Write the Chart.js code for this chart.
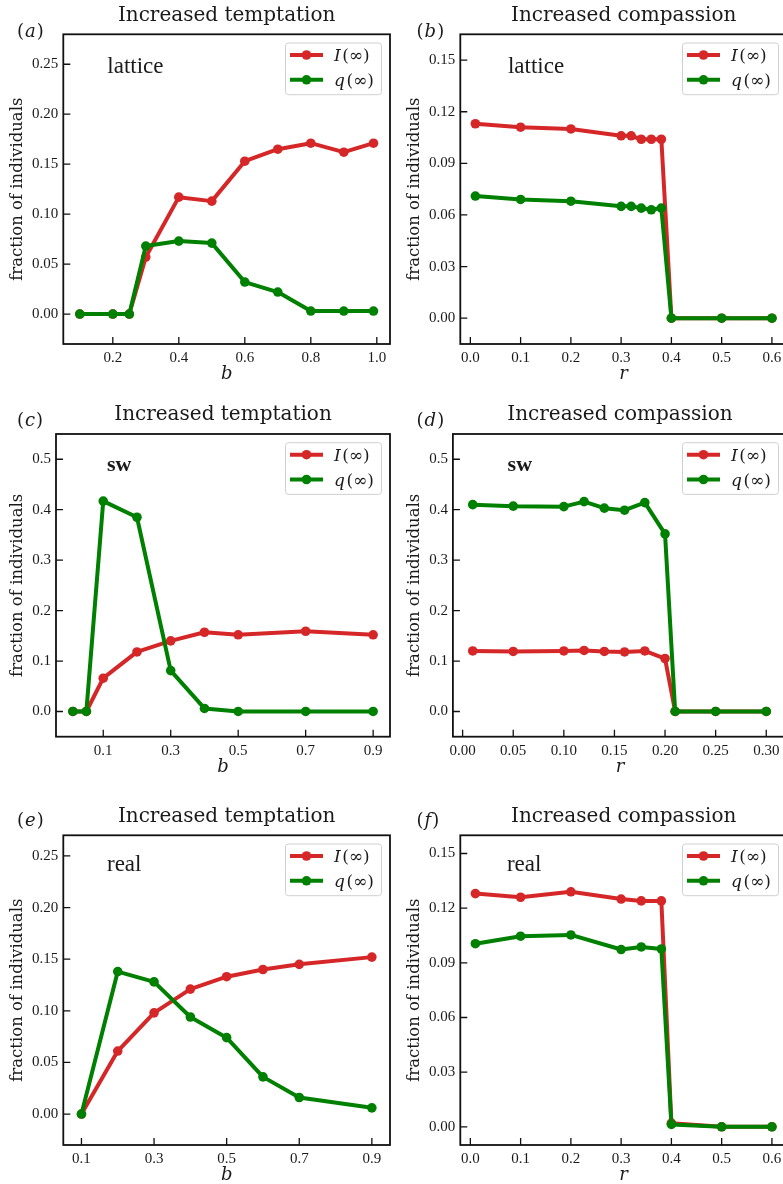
<!DOCTYPE html>
<html>
<head>
<meta charset="utf-8">
<script src="https://cdn.jsdelivr.net/npm/chart.js@4/dist/chart.umd.min.js"></script>
<style>
  html, body { margin:0; padding:0; background:#fff; }
  body { width:783px; height:1184px; overflow:hidden; position:relative; }
  canvas { position:absolute; }
</style>
</head>
<body>
<canvas id="ca" width="395" height="390"></canvas>
<canvas id="cb" width="395" height="390"></canvas>
<canvas id="cc" width="395" height="390"></canvas>
<canvas id="cd" width="395" height="390"></canvas>
<canvas id="ce" width="395" height="404"></canvas>
<canvas id="cf" width="395" height="404"></canvas>
<script>
// ---------- DATA ----------
// (a) lattice, increased temptation
const aX = [0.1, 0.2, 0.25, 0.3, 0.4, 0.5, 0.6, 0.7, 0.8, 0.9, 0.99];
const aI = [0, 0, 0, 0.057, 0.117, 0.113, 0.153, 0.165, 0.171, 0.162, 0.171];
const aQ = [0, 0, 0, 0.068, 0.073, 0.071, 0.032, 0.022, 0.003, 0.003, 0.003];
// (b) lattice, increased compassion
const bX = [0.01, 0.1, 0.2, 0.3, 0.32, 0.34, 0.36, 0.38, 0.4, 0.5, 0.6];
const bI = [0.113, 0.111, 0.110, 0.106, 0.106, 0.104, 0.104, 0.104, 0, 0, 0];
const bQ = [0.071, 0.069, 0.068, 0.065, 0.065, 0.064, 0.063, 0.064, 0, 0, 0];
// (c) sw, increased temptation
const cX = [0.01, 0.05, 0.1, 0.2, 0.3, 0.4, 0.5, 0.7, 0.9];
const cI = [0, 0, 0.066, 0.118, 0.140, 0.157, 0.152, 0.159, 0.152];
const cQ = [0, 0, 0.417, 0.385, 0.081, 0.006, 0, 0, 0];
// (d) sw, increased compassion
const dX = [0.01, 0.05, 0.1, 0.12, 0.14, 0.16, 0.18, 0.2, 0.21, 0.25, 0.3];
const dI = [0.120, 0.119, 0.120, 0.121, 0.119, 0.118, 0.120, 0.105, 0, 0, 0];
const dQ = [0.410, 0.407, 0.406, 0.416, 0.403, 0.399, 0.414, 0.352, 0, 0, 0];
// (e) real, increased temptation
const eX = [0.1, 0.2, 0.3, 0.4, 0.5, 0.6, 0.7, 0.9];
const eI = [0, 0.061, 0.098, 0.121, 0.133, 0.140, 0.145, 0.152];
const eQ = [0, 0.138, 0.128, 0.094, 0.074, 0.036, 0.016, 0.006];
// (f) real, increased compassion
const fX = [0.01, 0.1, 0.2, 0.3, 0.34, 0.38, 0.4, 0.5, 0.6];
const fI = [0.128, 0.126, 0.129, 0.125, 0.124, 0.124, 0.002, 0, 0];
const fQ = [0.1005, 0.1046, 0.1053, 0.0973, 0.0987, 0.0976, 0.0013, 0, 0];

// ---------- TICKS ----------
const aXTicks = [0.2, 0.4, 0.6, 0.8, 1.0];
const aYTicks = [0, 0.05, 0.10, 0.15, 0.20, 0.25];
const bXTicks = [0, 0.1, 0.2, 0.3, 0.4, 0.5, 0.6];
const bYTicks = [0, 0.03, 0.06, 0.09, 0.12, 0.15];
const cXTicks = [0.1, 0.3, 0.5, 0.7, 0.9];
const cYTicks = [0, 0.1, 0.2, 0.3, 0.4, 0.5];
const dXTicks = [0, 0.05, 0.10, 0.15, 0.20, 0.25, 0.30];
const dYTicks = [0, 0.1, 0.2, 0.3, 0.4, 0.5];
const eXTicks = [0.1, 0.3, 0.5, 0.7, 0.9];
const eYTicks = [0, 0.05, 0.10, 0.15, 0.20, 0.25];
const fXTicks = [0, 0.1, 0.2, 0.3, 0.4, 0.5, 0.6];
const fYTicks = [0, 0.03, 0.06, 0.09, 0.12, 0.15];

// ---------- TEXT ----------
const titles = { temptation: 'Increased temptation', compassion: 'Increased compassion' };
const yTitle = 'fraction of individuals';
const seriesNames = ['I', 'q'];

const RED = '#d62728';
const GREEN = '#008000';
const TXT = '#1a1a1a';

const decoPlugin = {
  id: 'deco',
  afterDraw(chart) {
    const o = chart.options.plugins.deco;
    const ctx = chart.ctx, a = chart.chartArea;
    const xs = chart.scales.x, ys = chart.scales.y;
    ctx.save();
    // inward ticks
    ctx.strokeStyle = '#111';
    ctx.lineWidth = 1.3;
    ctx.beginPath();
    xs.ticks.forEach(t => { const px = xs.getPixelForValue(t.value); ctx.moveTo(px, a.bottom); ctx.lineTo(px, a.bottom - 7); });
    ys.ticks.forEach(t => { const py = ys.getPixelForValue(t.value); ctx.moveTo(a.left, py); ctx.lineTo(a.left + 7, py); });
    ctx.stroke();
    // frame
    ctx.lineWidth = 1.8;
    ctx.strokeStyle = '#111';
    ctx.strokeRect(a.left, a.top, a.right - a.left, a.bottom - a.top);
    // title
    ctx.fillStyle = TXT;
    ctx.textBaseline = 'alphabetic';
    ctx.textAlign = 'center';
    ctx.font = '20px "DejaVu Serif"';
    ctx.fillText(o.title, (a.left + a.right) / 2, a.top - 13.8);
    // panel label
    ctx.textAlign = 'left';
    let lx = o.labelX;
    ctx.font = '18px "DejaVu Serif"';
    ctx.fillText('(', lx, o.labelY); lx += ctx.measureText('(').width + 1;
    ctx.font = 'italic 18px "DejaVu Serif"';
    ctx.fillText(o.letter, lx, o.labelY); lx += ctx.measureText(o.letter).width + 1;
    ctx.font = '18px "DejaVu Serif"';
    ctx.fillText(')', lx, o.labelY);
    // y title
    ctx.save();
    ctx.translate(18, (a.top + a.bottom) / 2);
    ctx.rotate(-Math.PI / 2);
    ctx.textAlign = 'center';
    ctx.textBaseline = 'middle';
    ctx.font = '16.5px "DejaVu Serif"';
    ctx.fillText(yTitle, 0, 0);
    ctx.restore();
    // x title
    ctx.textAlign = 'center';
    ctx.textBaseline = 'alphabetic';
    ctx.font = 'italic 18px "DejaVu Serif"';
    ctx.fillText(o.xTitle, (a.left + a.right) / 2, a.bottom + 35);
    // annotation
    ctx.textAlign = 'left';
    ctx.font = o.noteFont;
    ctx.fillText(o.note, o.noteX, o.noteY);
    // legend
    const bw = 96, bh = 51.7;
    const bx = a.right - 8.5 - bw, by = a.top + 8.7;
    ctx.beginPath();
    const r = 3;
    ctx.moveTo(bx + r, by);
    ctx.arcTo(bx + bw, by, bx + bw, by + bh, r);
    ctx.arcTo(bx + bw, by + bh, bx, by + bh, r);
    ctx.arcTo(bx, by + bh, bx, by, r);
    ctx.arcTo(bx, by, bx + bw, by, r);
    ctx.closePath();
    ctx.fillStyle = 'rgba(255,255,255,0.85)';
    ctx.fill();
    ctx.strokeStyle = '#d0d0d0';
    ctx.lineWidth = 1;
    ctx.stroke();
    const rows = [[RED, seriesNames[0], 12], [GREEN, seriesNames[1], 36.8]];
    rows.forEach(([col, name, dy]) => {
      const cy = by + dy;
      ctx.strokeStyle = col; ctx.lineWidth = 4;
      ctx.beginPath(); ctx.moveTo(bx + 4.5, cy); ctx.lineTo(bx + 37.5, cy); ctx.stroke();
      ctx.fillStyle = col;
      ctx.beginPath(); ctx.arc(bx + 21, cy, 4.8, 0, Math.PI * 2); ctx.fill();
      ctx.fillStyle = TXT;
      let tx = bx + 48.5;
      ctx.textAlign = 'left'; ctx.textBaseline = 'alphabetic';
      ctx.font = 'italic 17px "DejaVu Serif"';
      ctx.fillText(name, tx, cy + 6); tx += ctx.measureText(name).width + 1.5;
      ctx.font = '17px "DejaVu Serif"';
      ctx.fillText('(\u221E)', tx, cy + 6);
    });
    ctx.restore();
  }
};

function makePanel(id, p) {
  const cv = document.getElementById(id);
  cv.style.left = p.ox + 'px';
  cv.style.top = p.oy + 'px';
  cv.style.width = cv.width + 'px';
  cv.style.height = cv.height + 'px';
  const L = p.L - p.ox, T = p.T - p.oy, R = p.R - p.ox, B = p.B - p.oy;
  const xH = 30;
  const tickFont = { family: '"Liberation Serif"', size: 15 };
  new Chart(cv, {
    type: 'line',
    data: {
      datasets: [
        { data: p.x.map((v, i) => ({ x: v, y: p.I[i] })), borderColor: RED, backgroundColor: RED,
          borderWidth: 4, pointRadius: 4.8, pointBorderWidth: 0, pointBackgroundColor: RED, tension: 0, order: 1,
          borderJoinStyle: 'round', clip: 6 },
        { data: p.x.map((v, i) => ({ x: v, y: p.Q[i] })), borderColor: GREEN, backgroundColor: GREEN,
          borderWidth: 4, pointRadius: 4.8, pointBorderWidth: 0, pointBackgroundColor: GREEN, tension: 0, order: 0,
          borderJoinStyle: 'round', clip: 6 }
      ]
    },
    options: {
      responsive: false, maintainAspectRatio: false, animation: false, devicePixelRatio: 1,
      layout: { padding: { left: 0, top: T, right: cv.width - R, bottom: cv.height - B - xH } },
      plugins: {
        legend: { display: false }, tooltip: { enabled: false }, title: { display: false },
        deco: p.deco
      },
      scales: {
        x: {
          type: 'linear', min: p.xmin, max: p.xmax,
          grid: { display: false, drawTicks: false }, border: { display: false },
          ticks: { font: tickFont, color: TXT, padding: 5, maxRotation: 0, callback: v => v.toFixed(p.xDec) },
          afterBuildTicks: s => { s.ticks = p.xt.map(v => ({ value: v })); },
          afterFit: s => { s.height = xH; }
        },
        y: {
          type: 'linear', min: p.ymin, max: p.ymax,
          grid: { display: false, drawTicks: false }, border: { display: false },
          ticks: { font: tickFont, color: TXT, padding: 5, callback: v => v.toFixed(p.yDec) },
          afterBuildTicks: s => { s.ticks = p.yt.map(v => ({ value: v })); },
          afterFit: s => { s.width = L; }
        }
      }
    },
    plugins: [decoPlugin]
  });
}

const RX = 397.4;
const notePlain = '23px "Liberation Serif"';
const noteBold = 'bold 22px "Liberation Serif"';

makePanel('ca', { ox: 0, oy: 0, L: 63.3, T: 34.3, R: 390, B: 344,
  x: aX, I: aI, Q: aQ, xt: aXTicks, yt: aYTicks, xmin: 0.05, xmax: 1.04, ymin: -0.03, ymax: 0.28, xDec: 1, yDec: 2,
  deco: { title: titles.temptation, letter: 'a', labelX: 17, labelY: 36.5, xTitle: 'b', note: 'lattice', noteFont: notePlain, noteX: 107.3, noteY: 73.3 } });
makePanel('cb', { ox: RX, oy: 0, L: 460.7, T: 34.3, R: 787.4, B: 344,
  x: bX, I: bI, Q: bQ, xt: bXTicks, yt: bYTicks, xmin: -0.02, xmax: 0.63, ymin: -0.015, ymax: 0.165, xDec: 1, yDec: 2,
  deco: { title: titles.compassion, letter: 'b', labelX: 417 - RX, labelY: 36.5, xTitle: 'r', note: 'lattice', noteFont: notePlain, noteX: 508.3 - RX, noteY: 72.7 } });
makePanel('cc', { ox: 0, oy: 390, L: 56, T: 434, R: 390, B: 736.7,
  x: cX, I: cI, Q: cQ, xt: cXTicks, yt: cYTicks, xmin: -0.04, xmax: 0.95, ymin: -0.05, ymax: 0.55, xDec: 1, yDec: 1,
  deco: { title: titles.temptation, letter: 'c', labelX: 17, labelY: 425.5 - 390, xTitle: 'b', note: 'sw', noteFont: noteBold, noteX: 107, noteY: 470.7 - 390 } });
makePanel('cd', { ox: RX, oy: 390, L: 453.3, T: 434, R: 787.4, B: 736.7,
  x: dX, I: dI, Q: dQ, xt: dXTicks, yt: dYTicks, xmin: -0.0096, xmax: 0.3205, ymin: -0.05, ymax: 0.55, xDec: 2, yDec: 1,
  deco: { title: titles.compassion, letter: 'd', labelX: 417 - RX, labelY: 425.5 - 390, xTitle: 'r', note: 'sw', noteFont: noteBold, noteX: 508 - RX, noteY: 470.7 - 390 } });
makePanel('ce', { ox: 0, oy: 780, L: 63.3, T: 835.3, R: 390, B: 1145,
  x: eX, I: eI, Q: eQ, xt: eXTicks, yt: eYTicks, xmin: 0.05, xmax: 0.95, ymin: -0.03, ymax: 0.27, xDec: 1, yDec: 2,
  deco: { title: titles.temptation, letter: 'e', labelX: 17, labelY: 825.5 - 780, xTitle: 'b', note: 'real', noteFont: notePlain, noteX: 107, noteY: 870.7 - 780 } });
makePanel('cf', { ox: RX, oy: 780, L: 460.7, T: 835.3, R: 787.4, B: 1145,
  x: fX, I: fI, Q: fQ, xt: fXTicks, yt: fYTicks, xmin: -0.02, xmax: 0.63, ymin: -0.01, ymax: 0.16, xDec: 1, yDec: 2,
  deco: { title: titles.compassion, letter: 'f', labelX: 417 - RX, labelY: 825.5 - 780, xTitle: 'r', note: 'real', noteFont: notePlain, noteX: 507.3 - RX, noteY: 870.7 - 780 } });
</script>
</body>
</html>
